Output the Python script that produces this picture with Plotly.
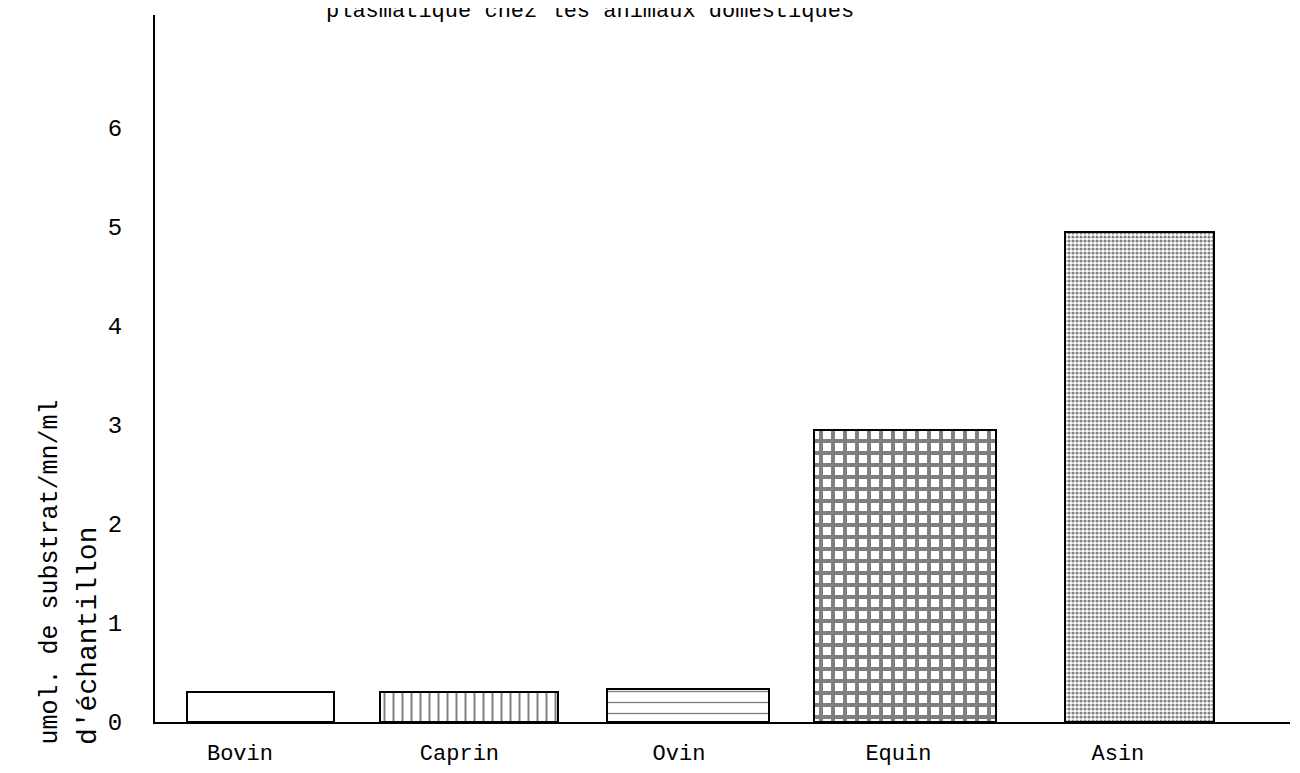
import plotly.graph_objects as go

# data
animals = ['Bovin', 'Caprin', 'Ovin', 'Equin', 'Asin']
activity = [0.30, 0.30, 0.33, 2.95, 4.95]
y_ticks = [0, 1, 2, 3, 4, 5, 6]

title_text = 'plasmatique chez les animaux domestiques'
y_title_1 = 'umol. de substrat/mn/ml'
y_title_2 = "d'échantillon"

# bar look (hand-drawn, so widths and offsets vary a bit)
bar_widths = [0.67, 0.81, 0.74, 0.83, 0.68]
bar_offsets = [-0.24, -0.36, -0.33, -0.385, -0.24]
patterns = ['', '|', '-', '+', '.']
pattern_sizes = [8, 9, 11, 12, 4]
pattern_solidity = [0.2, 0.22, 0.12, 0.55, 0.5]

FONT = 'Liberation Mono'

W, H = 1300, 773
# the page body adds an 8px margin, so shift everything back by that much
SHIFT = 8
L, R, T, B = 155 - SHIFT, 10 + SHIFT, 15 - SHIFT, 51 + SHIFT
pw, ph = W - L - R, H - T - B


def px(x):
    return (x - SHIFT - L) / pw


def py(y):
    return (H - B - (y - SHIFT)) / ph


fig = go.Figure()
fig.add_trace(go.Bar(
    x=list(range(len(animals))), y=activity,
    width=bar_widths, offset=bar_offsets,
    marker=dict(
        color='white',
        line=dict(color='black', width=2),
        pattern=dict(shape=patterns, size=pattern_sizes, solidity=pattern_solidity,
                     fgcolor='black', bgcolor='white', fillmode='overlay'),
    ),
    showlegend=False,
))

fig.update_layout(
    width=W, height=H,
    margin=dict(l=L, r=R, t=T, b=B),
    paper_bgcolor='white', plot_bgcolor='white',
    font=dict(family=FONT, color='black'),
    bargap=0,
)
fig.update_xaxes(
    range=[-0.387, 4.784],
    tickvals=list(range(len(animals))), ticktext=animals,
    tickfont=dict(size=22, family=FONT),
    showline=True, linecolor='black', linewidth=1.5,
    showgrid=False, zeroline=False, ticks='', ticklabelstandoff=10,
)
fig.update_yaxes(
    range=[0, (H - B - T) / 99],
    tickvals=y_ticks,
    tickfont=dict(size=24, family=FONT),
    showline=True, linecolor='black', linewidth=2,
    showgrid=False, zeroline=False, ticks='', ticklabelstandoff=26,
)

# title line is cut by the top edge in the scan
fig.add_annotation(text=title_text, xref='paper', yref='paper',
                   x=px(590), y=py(11), xanchor='center', yanchor='middle',
                   showarrow=False, font=dict(size=22, family=FONT))
fig.add_annotation(text=y_title_1, xref='paper', yref='paper', textangle=-90,
                   x=px(50), y=py(747), xanchor='center', yanchor='bottom',
                   showarrow=False, font=dict(size=25, family=FONT))
fig.add_annotation(text=y_title_2, xref='paper', yref='paper', textangle=-90,
                   x=px(88), y=py(747), xanchor='center', yanchor='bottom',
                   showarrow=False, font=dict(size=28, family=FONT))

fig.write_html('out.html')
